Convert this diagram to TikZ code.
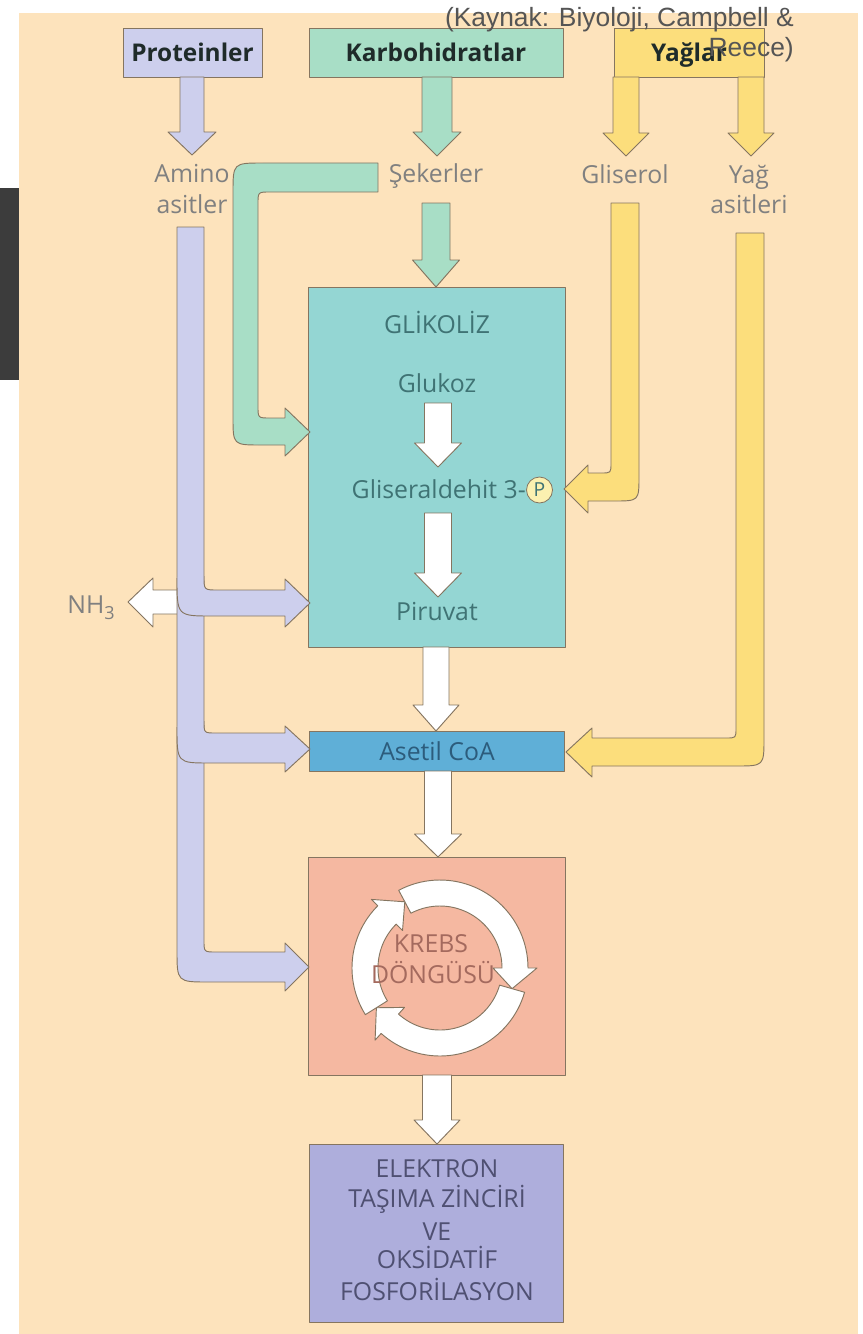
\documentclass[tikz,border=0pt]{standalone}
\usepackage{fontspec}
\setmainfont{Open Sans}
\newfontfamily\srcfamily{Liberation Sans}
\definecolor{peach}{HTML}{FDE3BC}
\definecolor{stripc}{HTML}{3C3C3C}
\definecolor{lavc}{HTML}{CDCFED}
\definecolor{mintc}{HTML}{A8DEC6}
\definecolor{yelc}{HTML}{FCDE7C}
\definecolor{tealc}{HTML}{94D6D3}
\definecolor{bluec}{HTML}{5FAFD7}
\definecolor{salmc}{HTML}{F5B8A1}
\definecolor{etcc}{HTML}{AEAEDC}
\definecolor{outc}{HTML}{857560}
\definecolor{lblc}{HTML}{808080}
\definecolor{glyc}{HTML}{3F7374}
\definecolor{bluetxt}{HTML}{2C5C7C}
\definecolor{krebtxt}{HTML}{A46A5E}
\definecolor{etctxt}{HTML}{4F5072}
\definecolor{ttlc}{HTML}{1F2B2A}
\definecolor{srcc}{HTML}{555555}
\definecolor{pfill}{HTML}{FBF0B0}
\newcommand\lblf{\fontsize{18.6pt}{22pt}\selectfont}
\newcommand\ttlf{\bfseries\fontsize{18.3pt}{22pt}\selectfont}
\newcommand\srcf{\srcfamily\fontsize{19.8pt}{23pt}\selectfont}
\newcommand\fatdn[7]{%
  \filldraw[outl, fill=#7] ({#1-#5},#2) -- ({#1-#5},#3) -- ({#1-#6},#3) -- (#1,#4) -- ({#1+#6},#3) -- ({#1+#5},#3) -- ({#1+#5},#2) -- cycle;}
\newcommand\krebsarc[3]{%
  \filldraw[outl, fill=white] plot[domain=0:1,samples=40] ({440+88*cos(#1+(#2-#1)*\x)},{968+88*sin(#1+(#2-#1)*\x)})
   -- ({440+97*cos(#2)},{968+97*sin(#2)}) -- ({440+75*cos(#3)},{968+75*sin(#3)}) -- ({440+53*cos(#2)},{968+53*sin(#2)})
   -- plot[domain=0:1,samples=40] ({440+62*cos(#2+(#1-#2)*\x)},{968+62*sin(#2+(#1-#2)*\x)}) -- cycle;}
\begin{document}
\begin{tikzpicture}[x=0.75pt,y=-0.75pt,line join=round,
  outl/.style={draw=outc, line width=0.7pt},
  boxst/.style={outl, inner sep=0pt, text depth=0pt},
  lbl/.style={text=lblc, font=\lblf, inner sep=0pt, anchor=base},
  inlbl/.style={font=\lblf, inner sep=0pt, anchor=base}]
\useasboundingbox (0,0) rectangle (863,1334);
\fill[white] (0,0) rectangle (863,1334);
\fill[peach] (19,13) rectangle (858,1334);
\fill[stripc] (0,188) rectangle (19,380);

% top source boxes
\node[boxst, fill=lavc, minimum width=104.25pt, minimum height=36.75pt, font=\ttlf, text=ttlc] (prot) at (192.5,52.5) {Proteinler};
\node[boxst, fill=mintc, minimum width=190.5pt, minimum height=36.75pt, font=\ttlf, text=ttlc] (karb) at (436,52.5) {Karbohidratlar};
\node[boxst, fill=yelc, minimum width=112.5pt, minimum height=36.75pt, font=\ttlf, text=ttlc] (yag) at (689,52.5) {Yağlar};

% arrows from the top boxes
\fatdn{192}{77}{132}{155}{12}{24}{lavc}
\fatdn{437}{77}{132}{156}{15}{24}{mintc}
\fatdn{626}{77}{133}{156}{13}{23}{yelc}
\fatdn{751}{77}{133}{156}{13}{23}{yelc}

% intermediate labels
\node[lbl] (amino) at (192,182) {Amino};
\node[lbl] (asit) at (192,213) {asitler};
\node[lbl] (seker) at (436,182) {Şekerler};
\node[lbl] (glis) at (625,183) {Gliserol};
\node[lbl] (yagas1) at (749,183) {Yağ};
\node[lbl] (yagas2) at (749,213) {asitleri};

% main boxes
\node[boxst, fill=tealc, minimum width=192.75pt, minimum height=270pt] (glyco) at (436.5,467) {};
\node[boxst, fill=bluec, minimum width=191.25pt, minimum height=30pt] (aset) at (436.5,751) {};
\node[boxst, fill=salmc, minimum width=192.75pt, minimum height=163.5pt] (krebs) at (436.5,966) {};
\node[boxst, fill=etcc, minimum width=190.5pt, minimum height=133.5pt] (etc) at (436,1233) {};

% NH3 arrow
\filldraw[outl, fill=white] (185,590) -- (153,590) -- (153,578) -- (128,602) -- (153,627) -- (153,614) -- (185,614);
\node[lbl] (nh3) at (91,613) {NH\raisebox{-5pt}{\fontsize{13.5pt}{13.5pt}\selectfont 3}};

% amino acid (lavender) arrows
\filldraw[outl, fill=lavc] (177,227) -- (204,227) -- (204,940) .. controls (204,952) .. (216,952) -- (285,952) -- (285,943) -- (309,967) -- (285,991) -- (285,982) -- (209,982) .. controls (177,982) .. (177,950) -- cycle;
\filldraw[outl, fill=lavc] (177,578) .. controls (177,616) .. (212,616) -- (285,616) -- (285,627) -- (310,603) -- (285,579) -- (285,590) -- (218,590) .. controls (204,590) .. (204,576);
\filldraw[outl, fill=lavc] (177,727) .. controls (177,763) .. (210,763) -- (285,763) -- (285,772) -- (310,749) -- (285,726) -- (285,733) -- (216,733) .. controls (204,733) .. (204,721);

% sugar (green) arrows
\filldraw[outl, fill=mintc] (378,163) -- (263,163) .. controls (233,163) .. (233,193) -- (233,417) .. controls (233,445) .. (261,445) -- (285,445) -- (285,456) -- (310,432) -- (285,408) -- (285,418) -- (270,418) .. controls (258,418) .. (258,406) -- (258,204) .. controls (258,192) .. (270,192) -- (378,192) -- cycle;
\fatdn{436}{203}{260}{287}{14}{23.5}{mintc}

% glycerol and fatty acid (yellow) arrows
\filldraw[outl, fill=yelc] (611,203) -- (639,203) -- (639,476) .. controls (639,501) .. (614,501) -- (588,501) -- (588,513) -- (564,489) -- (588,465) -- (588,473) -- (601,473) .. controls (611,473) .. (611,463) -- cycle;
\filldraw[outl, fill=yelc] (736,233) -- (764,233) -- (764,738) .. controls (764,766) .. (736,766) -- (592,766) -- (592,777) -- (566,752) -- (592,728) -- (592,738) -- (726,738) .. controls (736,738) .. (736,728) -- cycle;

% glycolysis content
\node[inlbl, text=glyc] (glikoliz) at (437,333) {GLİKOLİZ};
\node[inlbl, text=glyc] (glukoz) at (437,392) {Glukoz};
\fatdn{438}{403}{443}{467}{13.5}{23.5}{white}
\node[inlbl, text=glyc, anchor=base east] (g3p) at (526,498) {Gliseraldehit 3-};
\node[circle, draw=outc, line width=0.6pt, fill=pfill, inner sep=0pt, minimum size=19.5pt, font=\fontsize{14.5pt}{16pt}\selectfont, text=glyc] (pcirc) at (539.5,490) {P};
\fatdn{438}{513}{573}{597}{13.5}{23.5}{white}
\node[inlbl, text=glyc] (piruvat) at (437,620) {Piruvat};

% pyruvate -> acetyl CoA -> Krebs -> ETC
\fatdn{436}{647}{705}{731}{13}{23}{white}
\node[inlbl, text=bluetxt] (asettxt) at (437,760) {Asetil CoA};
\fatdn{438}{771}{834}{857}{13.5}{23.5}{white}
\fatdn{437}{1075}{1120}{1144}{14.5}{23}{white}

% Krebs cycle ring
\krebsarc{242}{360}{376}
\krebsarc{16}{132}{148}
\krebsarc{148}{225}{242}
\node[inlbl, text=krebtxt] (krebs1) at (431,952) {KREBS};
\node[inlbl, text=krebtxt] (krebs2) at (433,983) {DÖNGÜSÜ};

% electron transport chain text
\node[inlbl, text=etctxt] (e1) at (437,1177) {ELEKTRON};
\node[inlbl, text=etctxt] (e2) at (437,1207) {TAŞIMA ZİNCİRİ};
\node[inlbl, text=etctxt] (e3) at (437,1240) {VE};
\node[inlbl, text=etctxt] (e4) at (437,1268) {OKSİDATİF};
\node[inlbl, text=etctxt] (e5) at (437,1300) {FOSFORİLASYON};

% source note
\node[font=\srcf, text=srcc, inner sep=0pt, anchor=base east] (src1) at (794,27) {(Kaynak: Biyoloji, Campbell \&};
\node[font=\srcf, text=srcc, inner sep=0pt, anchor=base east] (src2) at (794,57) {Reece)};
\end{tikzpicture}
\end{document}
